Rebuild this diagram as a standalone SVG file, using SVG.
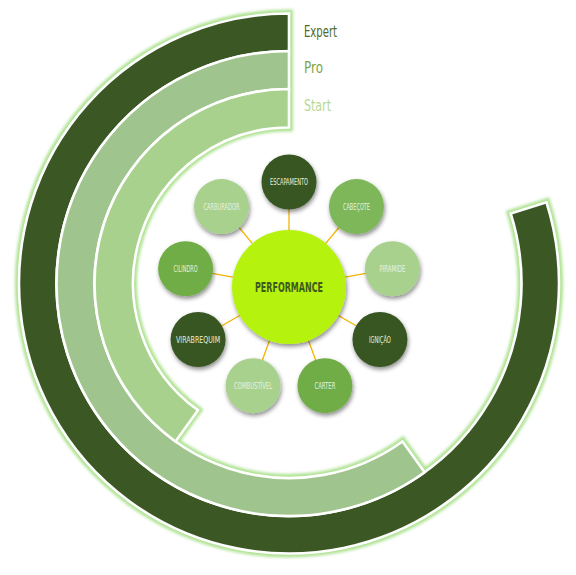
<svg xmlns="http://www.w3.org/2000/svg" width="576" height="575" viewBox="0 0 576 575">
<style>
.band{stroke:#ffffff;stroke-width:2.6;stroke-linejoin:miter}
.glowp{fill:#a6df86;stroke:#a6df86;stroke-width:8;stroke-linejoin:miter}
.lvl{font-family:"DejaVu Sans Condensed","Liberation Sans Narrow","Roboto Condensed","Liberation Sans",sans-serif;font-size:16.5px}
.nt{font-family:"DejaVu Sans Condensed","Liberation Sans Narrow","Roboto Condensed","Liberation Sans",sans-serif;font-size:8.6px;fill:#e9f1de;text-anchor:middle}
.conn{stroke:#f2b400;stroke-width:1.3;fill:none}
.dark{fill:#375623}
.mid{fill:#70ad47}
.mid2{fill:#7db75a}
.light{fill:#a9d18e}
</style>
<defs>
<filter id="blur" x="-10%" y="-10%" width="120%" height="120%"><feGaussianBlur stdDeviation="1.8"/></filter>
<filter id="shadow" x="-30%" y="-30%" width="160%" height="160%"><feDropShadow dx="1" dy="2.5" stdDeviation="2" flood-color="#000000" flood-opacity="0.45"/></filter>
</defs>

<g id="rings">
<g filter="url(#blur)" opacity="0.9">
<path class="glowp" d="M289,13.5 A270,270 0 1 0 546.50,202.31 L510.74,213.58 A232.5,232.5 0 1 1 289,51 Z"/>
<path class="glowp" d="M289,51 A232.5,232.5 0 1 0 424.67,472.31 L402.50,441.45 A194.5,194.5 0 1 1 289,89 Z"/>
<path class="glowp" d="M289,89 A194.5,194.5 0 0 0 175.50,441.45 L197.97,410.18 A156,156 0 0 1 289,127.5 Z"/>
</g>
<path id="expert" class="band" fill="#3a5724" d="M289,13.5 A270,270 0 1 0 546.50,202.31 L510.74,213.58 A232.5,232.5 0 1 1 289,51 Z"/>
<path id="pro" class="band" fill="#a0c48e" d="M289,51 A232.5,232.5 0 1 0 424.67,472.31 L402.50,441.45 A194.5,194.5 0 1 1 289,89 Z"/>
<path id="start" class="band" fill="#a9d18e" d="M289,89 A194.5,194.5 0 0 0 175.50,441.45 L197.97,410.18 A156,156 0 0 1 289,127.5 Z"/>
</g>

<g id="labels">
<text class="lvl" x="304" y="37" fill="#4f6a28" textLength="33" lengthAdjust="spacingAndGlyphs">Expert</text>
<text class="lvl" x="304" y="73" fill="#79a446" textLength="19" lengthAdjust="spacingAndGlyphs">Pro</text>
<text class="lvl" x="304" y="110.5" fill="#b7d894" textLength="27" lengthAdjust="spacingAndGlyphs">Start</text>
</g>

<g id="connectors">
<line class="conn" x1="289" y1="230" x2="289" y2="209"/>
<line class="conn" x1="325.64" y1="243.34" x2="339.14" y2="227.25"/>
<line class="conn" x1="345.13" y1="277.10" x2="365.81" y2="273.46"/>
<line class="conn" x1="338.36" y1="315.5" x2="356.55" y2="326"/>
<line class="conn" x1="308.49" y1="340.56" x2="315.68" y2="360.30"/>
<line class="conn" x1="269.51" y1="340.56" x2="262.32" y2="360.30"/>
<line class="conn" x1="239.64" y1="315.5" x2="221.45" y2="326"/>
<line class="conn" x1="232.87" y1="277.10" x2="212.19" y2="273.46"/>
<line class="conn" x1="252.36" y1="243.34" x2="238.86" y2="227.25"/>
</g>

<g id="performance">
<circle cx="289" cy="287" r="57" fill="#b5f20f" filter="url(#shadow)"/>
<text x="289" y="291.5" font-family="'DejaVu Sans Condensed','Liberation Sans Narrow','Liberation Sans',sans-serif" font-size="14.5" font-weight="bold" fill="#3d5a1c" text-anchor="middle" textLength="68" lengthAdjust="spacingAndGlyphs">PERFORMANCE</text>
</g>

<g id="escapamento"><circle class="dark" cx="289" cy="182" r="27.5" filter="url(#shadow)"/><text class="nt" x="289" y="184.8" textLength="38" lengthAdjust="spacingAndGlyphs">ESCAPAMENTO</text></g>
<g id="cabecote"><circle class="mid2" cx="356.49" cy="206.57" r="27.5" filter="url(#shadow)"/><text class="nt" x="356.49" y="209.6" textLength="27" lengthAdjust="spacingAndGlyphs">CABEÇOTE</text></g>
<g id="piramide"><circle class="light" cx="392.41" cy="268.77" r="27.5" filter="url(#shadow)"/><text class="nt" x="392.41" y="271.8" textLength="26" lengthAdjust="spacingAndGlyphs">PIRAMIDE</text></g>
<g id="ignicao"><circle class="dark" cx="379.93" cy="339.5" r="27.5" filter="url(#shadow)"/><text class="nt" x="379.93" y="342.5" textLength="22" lengthAdjust="spacingAndGlyphs">IGNIÇÃO</text></g>
<g id="carter"><circle class="mid" cx="324.91" cy="385.67" r="27.5" filter="url(#shadow)"/><text class="nt" x="324.91" y="388.7" textLength="21" lengthAdjust="spacingAndGlyphs">CARTER</text></g>
<g id="combustivel"><circle class="light" cx="253.09" cy="385.67" r="27.5" filter="url(#shadow)"/><text class="nt" x="253.09" y="388.7" textLength="38" lengthAdjust="spacingAndGlyphs">COMBUSTÍVEL</text></g>
<g id="virabrequim"><circle class="dark" cx="198.07" cy="339.5" r="27.5" filter="url(#shadow)"/><text class="nt" x="198.07" y="342.5" textLength="44" lengthAdjust="spacingAndGlyphs">VIRABREQUIM</text></g>
<g id="cilindro"><circle class="mid" cx="185.59" cy="268.77" r="27.5" filter="url(#shadow)"/><text class="nt" x="185.59" y="271.8" textLength="24" lengthAdjust="spacingAndGlyphs">CILINDRO</text></g>
<g id="carburador"><circle class="light" cx="221.51" cy="206.57" r="27.5" filter="url(#shadow)"/><text class="nt" x="221.51" y="209.6" textLength="36" lengthAdjust="spacingAndGlyphs">CARBURADOR</text></g>
</svg>
